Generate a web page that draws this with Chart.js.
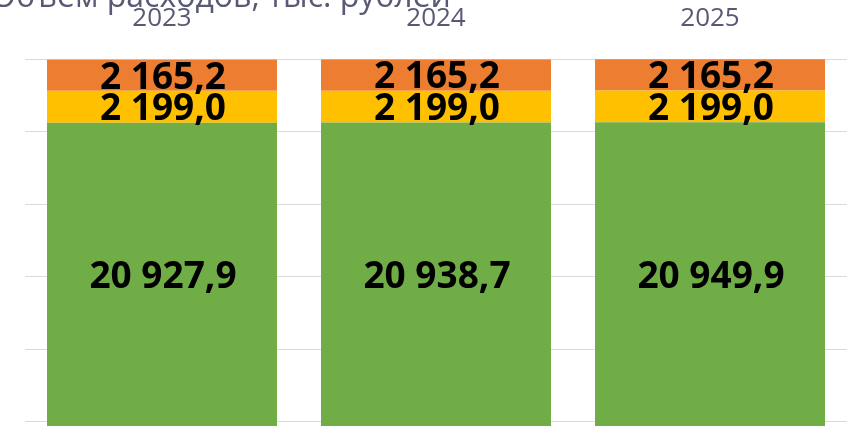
<!DOCTYPE html>
<html>
<head>
<meta charset="utf-8">
<script src="https://cdn.jsdelivr.net/npm/chart.js@4.4.1/dist/chart.umd.min.js"></script>
<style>
html,body{margin:0;padding:0;background:#ffffff;overflow:hidden;}
#wrap{width:859px;height:426px;position:relative;}
canvas{display:block;}
</style>
</head>
<body>
<div id="wrap"><canvas id="c" width="859" height="426"></canvas></div>
<script>
// ---- data ----
const chartTitle = 'Объем расходов, тыс. рублей';
const categories = ['2023', '2024', '2025'];
const seriesGreen = [20927.9, 20938.7, 20949.9];
const seriesYellow = [2199.0, 2199.0, 2199.0];
const seriesOrange = [2165.2, 2165.2, 2165.2];
const gridLineValues = [300, 5300, 10300, 15300, 20300, 25300];
const axisMin = 0;
const axisMax = 25300;

function fmtRu(v) {
  const s = v.toFixed(1);
  const parts = s.split('.');
  const intPart = parts[0].replace(/\B(?=(\d{3})+(?!\d))/g, ' ');
  return intPart + ',' + parts[1];
}

const valueLabels = {
  id: 'valueLabels',
  afterDatasetsDraw(chart) {
    const ctx = chart.ctx;
    ctx.save();
    ctx.font = 'bold 37px "Open Sans"';
    ctx.fillStyle = '#000000';
    ctx.textAlign = 'center';
    ctx.textBaseline = 'alphabetic';
    chart.data.datasets.forEach((ds, i) => {
      const meta = chart.getDatasetMeta(i);
      meta.data.forEach((bar, j) => {
        const cy = (bar.y + bar.base) / 2;
        ctx.fillText(fmtRu(ds.data[j]), bar.x + 1, cy + 13.5);
      });
    });
    ctx.restore();
  }
};

const croppedTitle = {
  id: 'croppedTitle',
  afterDraw(chart) {
    const ctx = chart.ctx;
    ctx.save();
    ctx.font = '32px "Open Sans"';
    ctx.fillStyle = '#595975';
    ctx.textAlign = 'center';
    ctx.textBaseline = 'alphabetic';
    ctx.fillText(chartTitle, 221, 6.5);
    ctx.restore();
  }
};

new Chart(document.getElementById('c'), {
  type: 'bar',
  data: {
    labels: categories,
    datasets: [
      { label: 'green', data: seriesGreen, backgroundColor: '#70AD47', borderWidth: 0 },
      { label: 'yellow', data: seriesYellow, backgroundColor: '#FFC000', borderWidth: 0 },
      { label: 'orange', data: seriesOrange, backgroundColor: '#ED7D31', borderWidth: 0 }
    ]
  },
  options: {
    responsive: false,
    animation: false,
    devicePixelRatio: 1,
    categoryPercentage: 1,
    barPercentage: 0.8394,
    layout: { padding: { top: 3, left: 25, right: 12, bottom: 0 } },
    plugins: {
      legend: { display: false },
      title: { display: false },
      tooltip: { enabled: false }
    },
    scales: {
      x: {
        position: 'top',
        stacked: true,
        afterFit(axis) { axis.height = 56.3; },
        grid: { display: false, drawTicks: false },
        border: { display: false },
        ticks: {
          color: '#595975',
          font: { family: 'Open Sans', size: 26 },
          padding: 25,
          maxRotation: 0
        }
      },
      y: {
        stacked: true,
        min: axisMin,
        max: axisMax,
        afterBuildTicks(axis) {
          axis.ticks = gridLineValues.map(v => ({ value: v }));
        },
        ticks: { display: false },
        grid: { color: '#d9d9d9', lineWidth: 1, drawTicks: false },
        border: { display: false }
      }
    }
  },
  plugins: [valueLabels, croppedTitle]
});
</script>
</body>
</html>
